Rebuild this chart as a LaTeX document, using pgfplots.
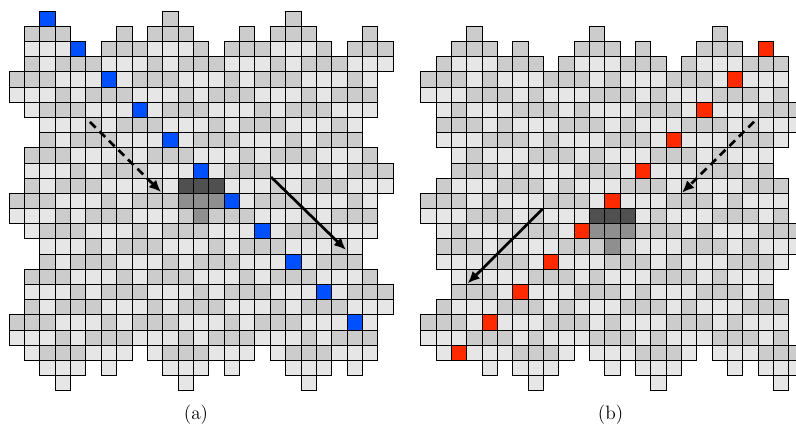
\documentclass[border=0pt]{standalone}
\usepackage{pgfplots}
\usepackage{pgfplotstable}
\pgfplotsset{compat=1.18}
\usetikzlibrary{arrows.meta}

\definecolor{cellL}{HTML}{E6E6E6}
\definecolor{cellG}{HTML}{CCCCCC}
\definecolor{cellD}{HTML}{505050}
\definecolor{cellM}{HTML}{8F8F8F}
\definecolor{hiBlue}{HTML}{0050FF}
\definecolor{hiRed}{HTML}{FF2A00}

% cell codes: 0 empty, 1 light, 2 grey, 3 dark, 4 mid grey, 5 highlighted
\pgfplotstableread{
c0 c1 c2 c3 c4 c5 c6 c7 c8 c9 c10 c11 c12 c13 c14 c15 c16 c17 c18 c19 c20 c21 c22 c23 c24
0 0 5 0 0 0 0 0 0 0 2 0 0 0 0 0 0 0 2 0 0 0 0 0 0
0 2 2 2 0 0 0 2 0 2 2 2 0 0 0 2 0 2 2 2 0 0 0 2 0
0 1 1 1 5 0 2 2 2 1 1 1 2 0 2 2 2 1 1 1 2 0 2 2 2
0 2 1 2 2 2 1 1 1 2 1 2 2 2 1 1 1 2 1 2 2 2 1 1 1
2 2 2 1 1 1 5 1 2 2 2 1 1 1 2 1 2 2 2 1 1 1 2 1 0
1 1 1 2 1 2 2 2 1 1 1 2 1 2 2 2 1 1 1 2 1 2 2 2 0
0 1 2 2 2 1 1 1 5 1 2 2 2 1 1 1 2 1 2 2 2 1 1 1 0
0 0 1 1 1 2 1 2 2 2 1 1 1 2 1 2 2 2 1 1 1 2 1 0 0
0 0 2 1 2 2 2 1 1 1 5 1 2 2 2 1 1 1 2 1 2 2 2 0 0
0 2 2 2 1 1 1 2 1 2 2 2 1 1 1 2 1 2 2 2 1 1 1 2 0
0 1 1 1 2 1 2 2 2 1 1 1 5 1 2 2 2 1 1 1 2 1 2 2 2
0 2 1 2 2 2 1 1 1 2 1 3 3 3 1 1 1 2 1 2 2 2 1 1 1
2 2 2 1 1 1 2 1 2 2 2 4 4 4 5 1 2 2 2 1 1 1 2 1 0
1 1 1 2 1 2 2 2 1 1 1 2 4 2 2 2 1 1 1 2 1 2 2 2 0
0 1 2 2 2 1 1 1 2 1 2 2 2 1 1 1 5 1 2 2 2 1 1 1 0
0 0 1 1 1 2 1 2 2 2 1 1 1 2 1 2 2 2 1 1 1 2 1 0 0
0 0 2 1 2 2 2 1 1 1 2 1 2 2 2 1 1 1 5 1 2 2 2 0 0
0 2 2 2 1 1 1 2 1 2 2 2 1 1 1 2 1 2 2 2 1 1 1 2 0
0 1 1 1 2 1 2 2 2 1 1 1 2 1 2 2 2 1 1 1 5 1 2 2 2
0 2 1 2 2 2 1 1 1 2 1 2 2 2 1 1 1 2 1 2 2 2 1 1 1
2 2 2 1 1 1 2 1 2 2 2 1 1 1 2 1 2 2 2 1 1 1 5 1 0
1 1 1 2 1 2 2 2 1 1 1 2 1 2 2 2 1 1 1 2 1 2 2 2 0
0 1 2 2 2 1 1 1 0 1 2 2 2 1 1 1 0 1 2 2 2 1 1 1 0
0 0 1 1 1 0 1 0 0 0 1 1 1 0 1 0 0 0 1 1 1 0 1 0 0
0 0 0 1 0 0 0 0 0 0 0 1 0 0 0 0 0 0 0 1 0 0 0 0 0
}\leftcells

\pgfplotstableread{
c0 c1 c2 c3 c4 c5 c6 c7 c8 c9 c10 c11 c12 c13 c14 c15 c16 c17 c18 c19 c20 c21 c22 c23 c24
0 0 0 0 0 0 0 0 0 0 0 0 0 0 0 0 0 0 0 0 0 0 0 0 0
0 0 0 2 0 0 0 0 0 0 0 2 0 0 0 0 0 0 0 2 0 0 0 0 0
0 0 2 2 2 0 2 0 0 0 2 2 2 0 2 0 0 0 2 2 2 0 5 0 0
0 2 1 1 1 2 2 2 0 2 1 1 1 2 2 2 0 2 1 1 1 2 2 2 0
2 2 2 1 2 1 1 1 2 2 2 1 2 1 1 1 2 2 2 1 5 1 1 1 0
1 1 1 2 2 2 1 2 1 1 1 2 2 2 1 2 1 1 1 2 2 2 1 2 0
0 1 2 1 1 1 2 2 2 1 2 1 1 1 2 2 2 1 5 1 1 1 2 2 2
0 2 2 2 1 2 1 1 1 2 2 2 1 2 1 1 1 2 2 2 1 2 1 1 1
0 1 1 1 2 2 2 1 2 1 1 1 2 2 2 1 5 1 1 1 2 2 2 1 0
0 0 1 2 1 1 1 2 2 2 1 2 1 1 1 2 2 2 1 2 1 1 1 0 0
0 0 2 2 2 1 2 1 1 1 2 2 2 1 5 1 1 1 2 2 2 1 2 0 0
0 2 1 1 1 2 2 2 1 2 1 1 1 2 2 2 1 2 1 1 1 2 2 2 0
2 2 2 1 2 1 1 1 2 2 2 1 5 1 1 1 2 2 2 1 2 1 1 1 0
1 1 1 2 2 2 1 2 1 1 1 3 3 3 1 2 1 1 1 2 2 2 1 2 0
0 1 2 1 1 1 2 2 2 1 5 4 4 4 2 2 2 1 2 1 1 1 2 2 2
0 2 2 2 1 2 1 1 1 2 2 2 4 2 1 1 1 2 2 2 1 2 1 1 1
0 1 1 1 2 2 2 1 5 1 1 1 2 2 2 1 2 1 1 1 2 2 2 1 0
0 0 1 2 1 1 1 2 2 2 1 2 1 1 1 2 2 2 1 2 1 1 1 0 0
0 0 2 2 2 1 5 1 1 1 2 2 2 1 2 1 1 1 2 2 2 1 2 0 0
0 2 1 1 1 2 2 2 1 2 1 1 1 2 2 2 1 2 1 1 1 2 2 2 0
2 2 2 1 5 1 1 1 2 2 2 1 2 1 1 1 2 2 2 1 2 1 1 1 0
1 1 1 2 2 2 1 2 1 1 1 2 2 2 1 2 1 1 1 2 2 2 1 2 0
0 1 5 1 1 1 2 2 2 1 0 1 1 1 2 2 2 1 0 1 1 1 2 2 2
0 0 0 0 1 0 1 1 1 0 0 0 1 0 1 1 1 0 0 0 1 0 1 1 1
0 0 0 0 0 0 0 1 0 0 0 0 0 0 0 1 0 0 0 0 0 0 0 1 0
}\rightcells

\pgfplotsset{
  tile/.style={hide axis, clip=false, xmin=-0.5, xmax=24.5, ymin=-0.5, ymax=24.5,
    y dir=reverse, y=11.39pt, anchor=north west},
  cells/.style={only marks, scatter, scatter src=explicit symbolic, forget plot,
    mark=square*, mark size=5.695pt,
    mark options={draw=black, line width=0.5pt, xscale=1.011},
    scatter/classes={0={mark=none}, 1={fill=cellL}, 2={fill=cellG},
      3={fill=cellD}, 4={fill=cellM}, 5={fill=#1}}},
}
\tikzset{arr/.style={line width=2pt, -{Latex[length=9pt,width=8pt]}},
  dashed arr/.style={arr, dash pattern=on 6pt off 4pt}}

\begin{document}
\begin{tikzpicture}
\path[use as bounding box] (0,0) rectangle (597pt,322.5pt);

\begin{axis}[tile, x=11.52pt, at={(6.75pt,314.25pt)}]
  \pgfplotsinvokeforeach{0,...,24}{
    \addplot[cells=hiBlue] table[x expr=#1, y expr=\coordindex, meta=c#1] {\leftcells};
  }
  \coordinate (a1) at (axis cs:4.77,6.81);
  \coordinate (a2) at (axis cs:9.40,11.42);
  \coordinate (a3) at (axis cs:16.56,10.43);
  \coordinate (a4) at (axis cs:21.44,15.23);
\end{axis}

\begin{axis}[tile, x=11.50pt, at={(315.5pt,314.25pt)}]
  \pgfplotsinvokeforeach{0,...,24}{
    \addplot[cells=hiRed] table[x expr=#1, y expr=\coordindex, meta=c#1] {\rightcells};
  }
  \coordinate (b1) at (axis cs:7.46,12.53);
  \coordinate (b2) at (axis cs:2.57,17.43);
  \coordinate (b3) at (axis cs:21.24,6.79);
  \coordinate (b4) at (axis cs:16.55,11.46);
\end{axis}

\draw[dashed arr] (a1) -- (a2);
\draw[arr] (a3) -- (a4);
\draw[arr] (b1) -- (b2);
\draw[dashed arr] (b3) -- (b4);

\node[font=\fontsize{14.5}{17}\selectfont] at (147pt,11.6pt) {(a)};
\node[font=\fontsize{14.5}{17}\selectfont] at (457.9pt,11.6pt) {(b)};
\end{tikzpicture}
\end{document}
